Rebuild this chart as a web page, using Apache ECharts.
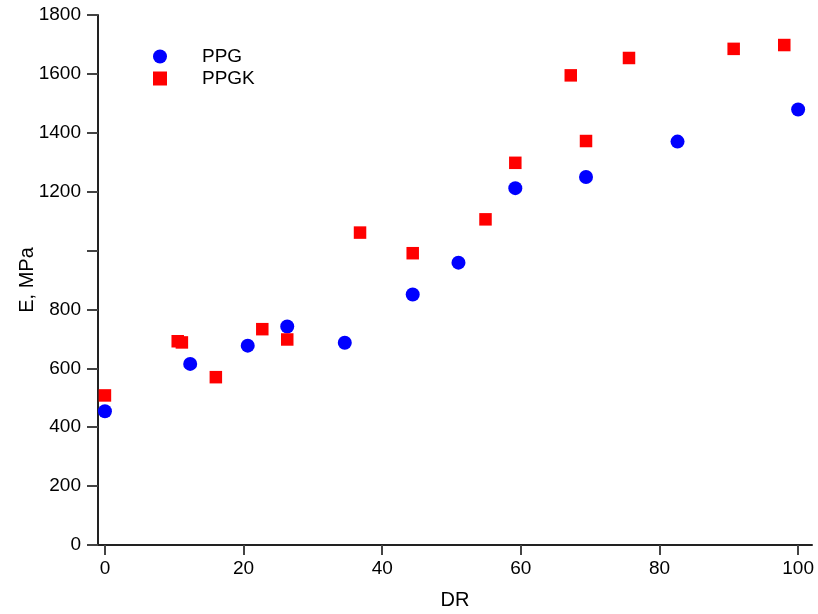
<!DOCTYPE html>
<html>
<head>
<meta charset="utf-8">
<script src="https://cdn.jsdelivr.net/npm/echarts@6/dist/echarts.min.js"></script>
<style>
  html, body { margin: 0; padding: 0; background: #fff; }
  #chart { width: 818px; height: 614px; }
</style>
</head>
<body>
<div id="chart"></div>
<script>
// PPG (circles)
const ppgX = [0, 12.3, 20.6, 26.3, 34.6, 44.4, 51.0, 59.2, 69.4, 82.6, 100]
const ppgY = [454, 615, 677, 742, 687, 851, 959, 1212, 1250, 1370, 1479]
// PPGK (squares)
const ppgkX = [0, 10.5, 11.1, 16.0, 22.7, 26.3, 36.8, 44.4, 54.9, 59.2, 67.2, 69.4, 75.6, 90.7, 98.0]
const ppgkY = [508, 692, 688, 570, 733, 698, 1061, 991, 1106, 1298, 1595, 1372, 1654, 1685, 1698]

const xTicks = [0, 20, 40, 60, 80, 100]
const yHidden = [1000]

const font = 'Liberation Sans, Arial, sans-serif'
const zip = (xs, ys) => xs.map((x, i) => [x, ys[i]])

const chart = echarts.init(document.getElementById('chart'))
chart.setOption({
  animation: false,
  backgroundColor: '#fff',
  grid: { left: 98, right: 6, top: 15, bottom: 69, containLabel: false, outerBoundsMode: 'none' },
  legend: {
    orient: 'vertical',
    left: 148,
    top: 42,
    itemWidth: 14,
    itemHeight: 14,
    itemGap: 3,
    textStyle: { fontFamily: font, fontSize: 19, color: '#000', padding: [0, 0, 0, 30] },
    data: [{ name: 'PPG', icon: 'circle' }, { name: 'PPGK', icon: 'rect' }]
  },
  xAxis: {
    type: 'value',
    min: -1,
    max: 102,
    name: 'DR',
    nameLocation: 'middle',
    nameGap: 45,
    nameMoveOverlap: false,
    nameTextStyle: { fontFamily: font, fontSize: 20, color: '#000' },
    splitLine: { show: false },
    axisLine: { onZero: false, lineStyle: { color: '#222', width: 2 } },
    axisTick: { customValues: xTicks, length: 10, lineStyle: { color: '#444', width: 2 } },
    axisLabel: { customValues: xTicks, margin: 14, fontFamily: font, fontSize: 19, color: '#000' }
  },
  yAxis: {
    type: 'value',
    min: 0,
    max: 1800,
    interval: 200,
    name: 'E, MPa',
    nameLocation: 'middle',
    nameGap: 61,
    nameMoveOverlap: false,
    nameTextStyle: { fontFamily: font, fontSize: 20, color: '#000' },
    splitLine: { show: false },
    axisLine: { show: true, onZero: false, lineStyle: { color: '#222', width: 2 } },
    axisTick: { show: true, length: 11, lineStyle: { color: '#444', width: 2 } },
    axisLabel: {
      margin: 17,
      fontFamily: font,
      fontSize: 19,
      color: '#000',
      formatter: v => (yHidden.includes(v) ? '' : String(v))
    }
  },
  series: [
    {
      name: 'PPG',
      type: 'scatter',
      symbol: 'circle',
      symbolSize: 14,
      itemStyle: { color: '#0000ff', opacity: 1 },
      data: zip(ppgX, ppgY)
    },
    {
      name: 'PPGK',
      type: 'scatter',
      symbol: 'rect',
      symbolSize: 12.5,
      itemStyle: { color: '#ff0000', opacity: 1 },
      data: zip(ppgkX, ppgkY)
    }
  ]
})
</script>
</body>
</html>
